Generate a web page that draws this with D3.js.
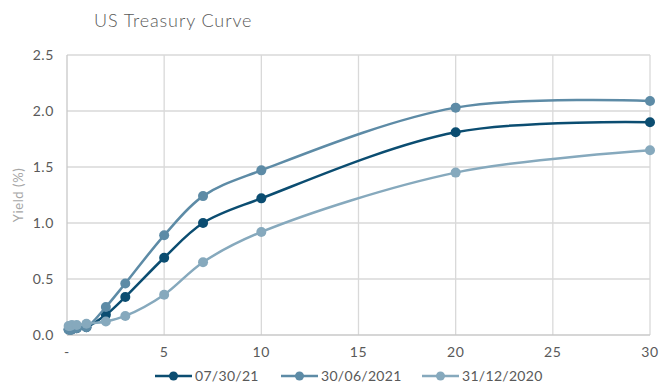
<!DOCTYPE html>
<html>
<head>
<meta charset="utf-8">
<script src="https://cdn.jsdelivr.net/npm/d3@7"></script>
<style>
  body { margin: 0; background: #fff; font-family: Lato, "Open Sans", sans-serif; }
  svg text { fill: #595959; }
</style>
</head>
<body>
<svg id="chart" width="659" height="383"></svg>
<script>
// Chart size and plot area
const width = 659;
const height = 383;
const margin = { top: 55, right: 9, bottom: 48, left: 67 };

// Maturities in years (1m, 2m, 3m, 6m, 1y, 2y, 3y, 5y, 7y, 10y, 20y, 30y)
const maturities = [0.083, 0.167, 0.25, 0.5, 1, 2, 3, 5, 7, 10, 20, 30];

// Yields per curve
const seriesNames = ["07/30/21", "30/06/2021", "31/12/2020"];
const yieldsJul = [0.05, 0.05, 0.05, 0.06, 0.07, 0.18, 0.34, 0.69, 1.00, 1.22, 1.81, 1.90];
const yieldsJun = [0.05, 0.05, 0.05, 0.06, 0.07, 0.25, 0.46, 0.89, 1.24, 1.47, 2.03, 2.09];
const yieldsDec = [0.08, 0.08, 0.09, 0.09, 0.10, 0.12, 0.17, 0.36, 0.65, 0.92, 1.45, 1.65];
const colors = ["#0b4d71", "#5d8ba6", "#86a9bd"];

const xTicks = [0, 5, 10, 15, 20, 25, 30];
const yTicks = [0, 0.5, 1.0, 1.5, 2.0, 2.5];

const svg = d3.select("#chart");

const x = d3.scaleLinear().domain([0, 30]).range([margin.left, width - margin.right]);
const y = d3.scaleLinear().domain([0, 2.5]).range([height - margin.bottom, margin.top]);

// Title
svg.append("text")
    .attr("x", 94).attr("y", 27)
    .attr("font-size", 18).attr("font-weight", 300)
    .attr("letter-spacing", 0.9)
    .text("US Treasury Curve");

// Gridlines
svg.append("g").selectAll("line")
    .data(yTicks.slice(1))
    .enter().append("line")
    .attr("x1", x(0)).attr("x2", x(30))
    .attr("y1", d => y(d)).attr("y2", d => y(d))
    .attr("stroke", "#d9d9d9").attr("stroke-width", 1.3);

svg.append("g").selectAll("line")
    .data(xTicks.slice(1))
    .enter().append("line")
    .attr("x1", d => x(d)).attr("x2", d => x(d))
    .attr("y1", y(0)).attr("y2", y(2.5))
    .attr("stroke", "#d9d9d9").attr("stroke-width", 1.3);

// Axis lines
svg.append("line")
    .attr("x1", x(0)).attr("x2", x(0)).attr("y1", y(0)).attr("y2", y(2.5))
    .attr("stroke", "#c8c8c8").attr("stroke-width", 1.3);
svg.append("line")
    .attr("x1", x(0)).attr("x2", x(30)).attr("y1", y(0)).attr("y2", y(0))
    .attr("stroke", "#c8c8c8").attr("stroke-width", 1.3);

// Tick labels
svg.append("g").selectAll("text")
    .data(yTicks)
    .enter().append("text")
    .attr("x", 54).attr("y", d => y(d) + 5)
    .attr("text-anchor", "end").attr("font-size", 14)
    .attr("letter-spacing", 0.6)
    .text(d => d.toFixed(1));

svg.append("g").selectAll("text")
    .data(xTicks)
    .enter().append("text")
    .attr("x", d => x(d)).attr("y", 357)
    .attr("text-anchor", "middle").attr("font-size", 14)
    .attr("letter-spacing", 0.6)
    .text(d => d === 0 ? "-" : d);

// Y axis title
svg.append("text")
    .attr("transform", `translate(23, ${(y(0) + y(2.5)) / 2}) rotate(-90)`)
    .attr("text-anchor", "middle").attr("font-size", 13)
    .attr("letter-spacing", 0.6)
    .style("fill", "#a6a6a6")
    .text("Yield (%)");

// Curves
const allYields = [yieldsJul, yieldsJun, yieldsDec];
const line = d3.line()
    .x(d => x(d[0])).y(d => y(d[1]))
    .curve(d3.curveCatmullRom.alpha(0.5));

allYields.forEach((vals, i) => {
    const pts = maturities.map((m, j) => [m, vals[j]]);
    const g = svg.append("g");
    g.append("path")
        .attr("d", line(pts))
        .attr("fill", "none")
        .attr("stroke", colors[i])
        .attr("stroke-width", 2.5);
    g.selectAll("circle")
        .data(pts)
        .enter().append("circle")
        .attr("cx", d => x(d[0])).attr("cy", d => y(d[1]))
        .attr("r", 5)
        .attr("fill", colors[i]);
});

// Legend
const legendX = [155, 281, 422];
const legend = svg.append("g").selectAll("g")
    .data(seriesNames)
    .enter().append("g")
    .attr("transform", (d, i) => `translate(${legendX[i]}, 376)`);
legend.append("line")
    .attr("x1", 0).attr("x2", 37)
    .attr("stroke", (d, i) => colors[i]).attr("stroke-width", 2.5);
legend.append("circle")
    .attr("cx", 18.5).attr("r", 4.5)
    .attr("fill", (d, i) => colors[i]);
legend.append("text")
    .attr("x", 40).attr("y", 5)
    .attr("font-size", 14)
    .attr("letter-spacing", 0.3)
    .text(d => d);
</script>
</body>
</html>
